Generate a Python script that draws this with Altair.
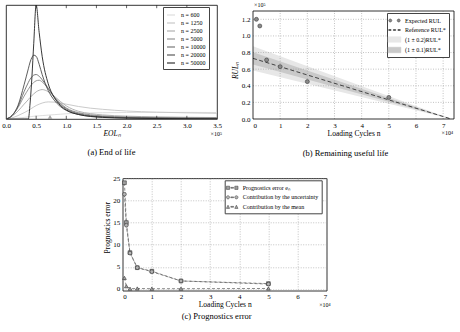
import altair as alt
import pandas as pd

FONT = "Liberation Serif"

# ---------------- (a) End of life ----------------
eol_x = [0.0, 0.1, 0.2, 0.3, 0.37, 0.4, 0.43, 0.46, 0.5, 0.55, 0.6, 0.7, 0.8, 0.9,
         1.0, 1.2, 1.4, 1.6, 2.0, 2.5, 3.0, 3.5]
n_values = ["600", "1250", "2500", "5000", "10000", "20000", "50000"]
dens_600 = [0, 0.003, 0.008, 0.014, 0.018, 0.02, 0.022, 0.024, 0.026, 0.028, 0.03, 0.034,
            0.038, 0.042, 0.046, 0.05, 0.053, 0.055, 0.057, 0.058, 0.058, 0.057]
dens_1250 = [0, 0.01, 0.03, 0.055, 0.075, 0.085, 0.095, 0.105, 0.118, 0.13, 0.14, 0.15,
             0.148, 0.14, 0.13, 0.11, 0.095, 0.085, 0.07, 0.06, 0.054, 0.05]
dens_2500 = [0, 0.025, 0.07, 0.13, 0.17, 0.19, 0.205, 0.22, 0.238, 0.252, 0.258, 0.24,
             0.2, 0.155, 0.115, 0.068, 0.047, 0.036, 0.025, 0.019, 0.015, 0.013]
dens_5000 = [0, 0.03, 0.1, 0.2, 0.26, 0.285, 0.305, 0.32, 0.335, 0.34, 0.325, 0.265,
             0.195, 0.14, 0.097, 0.056, 0.037, 0.027, 0.018, 0.013, 0.01, 0.009]
dens_10000 = [0, 0.03, 0.11, 0.24, 0.32, 0.35, 0.37, 0.385, 0.39, 0.375, 0.345, 0.27,
              0.19, 0.13, 0.09, 0.048, 0.03, 0.021, 0.013, 0.009, 0.007, 0.006]
dens_20000 = [0, 0.03, 0.12, 0.3, 0.44, 0.5, 0.54, 0.56, 0.55, 0.48, 0.39, 0.25,
              0.165, 0.11, 0.075, 0.04, 0.025, 0.017, 0.01, 0.006, 0.004, 0.003]
dens_50000 = [0, 0, 0, 0, 0, 0.14, 0.37, 0.66, 1.0, 0.76, 0.55, 0.31,
              0.19, 0.12, 0.08, 0.04, 0.022, 0.014, 0.007, 0.004, 0.002, 0.001]
a_colors = ["#dadada", "#c4c4c4", "#a9a9a9", "#8c8c8c", "#6c6c6c", "#4c4c4c", "#222222"]
eol_true = [0.73]
a_ticks = [0.5, 1.0, 1.5, 2.0, 2.5, 3.0]
a_xlabels = [0.0, 0.5, 1.0, 1.5, 2.0, 2.5, 3.0, 3.5]

# ---------------- (b) Remaining useful life ----------------
ref_n = [0.0, 7.3]
ref_rul = [0.73, 0.0]
band20_lo = [0.584, 0.0]
band20_hi = [0.876, 0.0]
band10_lo = [0.657, 0.0]
band10_hi = [0.803, 0.0]
exp_n = [0.125, 0.25, 0.5, 1.0, 2.0, 5.0]
exp_rul = [1.2, 1.12, 0.71, 0.63, 0.45, 0.26]
b_xticks = [0, 1, 2, 3, 4, 5, 6, 7]
b_yticks = [0.0, 0.2, 0.4, 0.6, 0.8, 1.0, 1.2]
b_legend = ["Expected RUL", "Reference RUL*", "(1 ± 0.2)RUL*", "(1 ± 0.1)RUL*"]

# ---------------- (c) Prognostics error ----------------
err_n = [0.06, 0.125, 0.25, 0.5, 1.0, 2.0, 5.0]
err_total = [24.0, 15.0, 8.2, 4.8, 4.0, 1.8, 1.2]
err_unc = [21.4, 14.4, 8.1, 4.8, 3.9, 1.8, 1.1]
err_mean = [2.5, 0.6, 0.05, 0.1, 0.05, 0.05, 0.1]
c_xticks = [0, 1, 2, 3, 4, 5, 6, 7]
c_yticks = [0, 5, 10, 15, 20, 25]
c_legend = ["Prognostics error eₙ", "Contribution by the uncertainty", "Contribution by the mean"]

GRID = dict(stroke="#9a9a9a", strokeWidth=0.6, strokeDash=[1, 1.5])
AX = dict(labelOverlap=False, labelFont=FONT, titleFont=FONT, labelFontSize=7, titleFontSize=7.5,
          titleFontWeight="normal", labelColor="#000", titleColor="#000", ticks=False,
          domain=False)

# ======== panel (a) ========
A_W, A_H = 211, 114
dens_all = [dens_600, dens_1250, dens_2500, dens_5000, dens_10000, dens_20000, dens_50000]
a_labels = ["n = " + v for v in n_values]
rows = []
for lab, ys in zip(a_labels, dens_all):
    for xv, yv in zip(eol_x, ys):
        rows.append({"eol": xv, "dens": yv, "series": lab})
df_a = pd.DataFrame(rows)

xa_scale = alt.Scale(domain=[0, 3.5], nice=False, zero=False)
ya_scale = alt.Scale(domain=[0, 1.0], nice=False)
xa_axis = alt.Axis(values=a_xlabels, tickCount=len(a_xlabels), format=".1f", title="EOLₙ",
                   titleFontStyle="italic", labelPadding=2, titlePadding=1, labelFlush=False,
                   grid=False, **AX)

leg_a = alt.Legend(title=None, orient="none", legendX=157, legendY=2, strokeColor="#444",
                   fillColor="white", padding=3, labelFont=FONT, labelFontSize=6,
                   symbolType="stroke", symbolSize=64, symbolStrokeWidth=1.1, rowPadding=0,
                   labelOffset=5, cornerRadius=0)
lines_a = alt.Chart(df_a).mark_line(strokeWidth=0.9, interpolate="monotone", clip=True).encode(
    x=alt.X("eol:Q", scale=xa_scale, axis=xa_axis),
    y=alt.Y("dens:Q", scale=ya_scale, axis=None),
    color=alt.Color("series:N", scale=alt.Scale(domain=a_labels, range=a_colors), legend=leg_a))

df_true = pd.DataFrame({"eol": eol_true, "dens": [0.0]})
tri_a = alt.Chart(df_true).mark_point(shape="triangle-up", filled=True, color="#a8a8a8",
                                      opacity=1, size=22, yOffset=-2).encode(
    x=alt.X("eol:Q", scale=xa_scale, axis=xa_axis),
    y=alt.Y("dens:Q", scale=ya_scale, axis=None))

df_at = pd.DataFrame({"t": a_ticks, "b0": [0.0] * len(a_ticks), "b1": [0.028] * len(a_ticks),
                      "t0": [1.0] * len(a_ticks), "t1": [0.972] * len(a_ticks)})
ticks_bot = alt.Chart(df_at).mark_rule(color="#222", strokeWidth=0.7).encode(
    x=alt.X("t:Q", scale=xa_scale, axis=xa_axis),
    y=alt.Y("b0:Q", scale=ya_scale, axis=None), y2="b1:Q")
ticks_top = alt.Chart(df_at).mark_rule(color="#222", strokeWidth=0.7).encode(
    x=alt.X("t:Q", scale=xa_scale, axis=xa_axis),
    y=alt.Y("t0:Q", scale=ya_scale, axis=None), y2="t1:Q")
exp_a = alt.Chart(pd.DataFrame({"t": ["×10⁵"]})).mark_text(
    font=FONT, fontSize=6, align="right", baseline="middle").encode(
    text="t:N", x=alt.value(A_W + 5), y=alt.value(A_H + 15))

chart_a = alt.layer(lines_a, ticks_bot, ticks_top, tri_a, exp_a).properties(
    width=A_W, height=A_H,
    title=alt.TitleParams("(a) End of life", orient="bottom", anchor="middle", offset=11,
                          font=FONT, fontSize=8.5, fontWeight="normal"))

# ======== panel (b) ========
B_W, B_H = 201, 114
B_TOP = 1.3
xb_scale = alt.Scale(domain=[0, 7.4], nice=False, zero=False)
yb_scale = alt.Scale(domain=[0, 1.3 * 114 / 108], nice=False)
xb_axis = alt.Axis(values=b_xticks, tickCount=len(b_xticks), format="d",
                   title="Loading Cycles n", labelPadding=2, titlePadding=1, grid=False, **AX)
yb_axis = alt.Axis(values=b_yticks, tickCount=len(b_yticks), format=".1f", title="RULₙ",
                   titleFontStyle="italic", labelPadding=3, titlePadding=2, titleY=65,
                   grid=False, **AX)


def bx(f):
    return alt.X(f, scale=xb_scale, axis=xb_axis)


def by(f):
    return alt.Y(f, scale=yb_scale, axis=yb_axis)


df_band = pd.DataFrame({"n": ref_n, "rul": ref_rul, "lo20": band20_lo, "hi20": band20_hi,
                        "lo10": band10_lo, "hi10": band10_hi})
band20 = alt.Chart(df_band).mark_area(color="#e7e7e7", opacity=1).encode(
    x=bx("n:Q"), y=by("lo20:Q"), y2="hi20:Q")
band10 = alt.Chart(df_band).mark_area(color="#c9c9c9", opacity=1).encode(
    x=bx("n:Q"), y=by("lo10:Q"), y2="hi10:Q")

df_bgx = pd.DataFrame({"g": b_xticks[1:], "y0": [0.0] * 7, "y1": [B_TOP] * 7})
df_bgy = pd.DataFrame({"g": b_yticks[1:], "x0": [0.0] * 6, "x1": [7.4] * 6})
grid_bx = alt.Chart(df_bgx).mark_rule(**GRID).encode(x=bx("g:Q"), y=by("y0:Q"), y2="y1:Q")
grid_by = alt.Chart(df_bgy).mark_rule(**GRID).encode(y=by("g:Q"), x=bx("x0:Q"), x2="x1:Q")

ref_line = alt.Chart(df_band).mark_line(color="#333", strokeWidth=0.9, strokeDash=[4, 2.5]).encode(
    x=bx("n:Q"), y=by("rul:Q"))

df_exp = pd.DataFrame({"n": exp_n, "rul": exp_rul})
pts_b = alt.Chart(df_exp).mark_point(shape="circle", filled=True, fill="#8a8a8a", stroke="#3a3a3a",
                                     strokeWidth=0.6, opacity=1, size=16, clip=True).encode(
    x=bx("n:Q"), y=by("rul:Q"))

df_frame = pd.DataFrame({"x0": [0.0], "x1": [7.4], "y0": [0.0], "y1": [B_TOP]})
frame_b = alt.Chart(df_frame).mark_rect(fillOpacity=0, stroke="#000", strokeWidth=0.8).encode(
    x=bx("x0:Q"), x2="x1:Q", y=by("y0:Q"), y2="y1:Q")

b_paths = [
    "M-1.43,0A0.38,0.38 0 1,1 -0.67,0A0.38,0.38 0 1,1 -1.43,0Z M0.67,0A0.38,0.38 0 1,1 1.43,0A0.38,0.38 0 1,1 0.67,0Z",
    "M-1.45,-0.1H-0.85V0.1H-1.45Z M-0.3,-0.1H0.3V0.1H-0.3Z M0.85,-0.1H1.45V0.1H0.85Z",
    "M-1.6,-0.7H1.6V0.7H-1.6Z",
    "M-1.6,-0.7H1.6V0.7H-1.6Z",
]
b_fills = ["#8a8a8a", "#333333", "#e7e7e7", "#c9c9c9"]
b_strokes = ["#3a3a3a", "#333333", "#e7e7e7", "#c9c9c9"]


def legend_layer(domain, fills, strokes, paths, lx, ly):
    leg = alt.Legend(title=None, orient="none", legendX=lx, legendY=ly, strokeColor="#444",
                     fillColor="white", padding=3, labelFont=FONT, labelFontSize=6,
                     symbolSize=64, symbolStrokeWidth=0.5, rowPadding=1.5, labelOffset=6,
                     cornerRadius=0, symbolOpacity=1)
    df = pd.DataFrame({"k": domain})
    return alt.Chart(df).transform_filter("false").mark_point(filled=True, opacity=1).encode(
        fill=alt.Fill("k:N", scale=alt.Scale(domain=domain, range=fills), legend=leg),
        stroke=alt.Stroke("k:N", scale=alt.Scale(domain=domain, range=strokes), legend=leg),
        shape=alt.Shape("k:N", scale=alt.Scale(domain=domain, range=paths), legend=leg))


leg_b = legend_layer(b_legend, b_fills, b_strokes, b_paths, 134, 8)
exp_b1 = alt.Chart(pd.DataFrame({"t": ["×10⁵"]})).mark_text(
    font=FONT, fontSize=6, align="left", baseline="middle").encode(
    text="t:N", x=alt.value(1), y=alt.value(0))
exp_b2 = alt.Chart(pd.DataFrame({"t": ["×10⁴"]})).mark_text(
    font=FONT, fontSize=6, align="right", baseline="middle").encode(
    text="t:N", x=alt.value(B_W - 1), y=alt.value(B_H + 14))

chart_b = alt.layer(band20, band10, grid_bx, grid_by, ref_line, pts_b, frame_b, leg_b,
                    exp_b1, exp_b2).properties(
    width=B_W, height=B_H, view=alt.ViewBackground(stroke="transparent"),
    title=alt.TitleParams("(b) Remaining useful life", orient="bottom", anchor="middle",
                          offset=12, dx=-8, font=FONT, fontSize=8.5, fontWeight="normal"))

# ======== panel (c) ========
C_W, C_H = 204, 112.4
xc_scale = alt.Scale(domain=[0, 7], nice=False, zero=False)
yc_scale = alt.Scale(domain=[-0.4, 25], nice=False, zero=False)
xc_axis = alt.Axis(values=c_xticks, tickCount=len(c_xticks), format="d",
                   title="Loading Cycles n", labelPadding=2, titlePadding=1, grid=True,
                   gridDash=[1, 1.5], gridColor="#9a9a9a", gridWidth=0.6, **AX)
yc_axis = alt.Axis(values=c_yticks, tickCount=len(c_yticks), format="d",
                   title="Prognostics error", labelPadding=3, titlePadding=1, titleY=49,
                   grid=True, gridDash=[1, 1.5], gridColor="#9a9a9a", gridWidth=0.6, **AX)

df_c = pd.DataFrame({"n": err_n * 3, "v": err_total + err_unc + err_mean,
                     "s": ["tot"] * 7 + ["unc"] * 7 + ["mean"] * 7})
lines_c = alt.Chart(df_c).mark_line(color="#6a6a6a", strokeWidth=0.8, strokeDash=[3, 2]).encode(
    x=alt.X("n:Q", scale=xc_scale, axis=xc_axis),
    y=alt.Y("v:Q", scale=yc_scale, axis=yc_axis),
    detail="s:N")


def pts(series, shape, fill):
    d = pd.DataFrame({"n": err_n, "v": series})
    return alt.Chart(d).mark_point(shape=shape, filled=True, fill=fill, stroke="#333",
                                   strokeWidth=0.6, opacity=1, size=14).encode(
        x=alt.X("n:Q", scale=xc_scale, axis=xc_axis),
        y=alt.Y("v:Q", scale=yc_scale, axis=yc_axis))


pts_tot = pts(err_total, "square", "#a0a0a0")
pts_unc = pts(err_unc, "circle", "#b4b4b4")
pts_mean = pts(err_mean, "triangle-up", "#a8a8a8")

c_paths = [
    "M-1.45,-0.4H-0.65V0.4H-1.45Z M-0.35,-0.1H0.35V0.1H-0.35Z M0.65,-0.4H1.45V0.4H0.65Z",
    "M-1.45,0A0.4,0.4 0 1,1 -0.65,0A0.4,0.4 0 1,1 -1.45,0Z M-0.35,-0.1H0.35V0.1H-0.35Z M0.65,0A0.4,0.4 0 1,1 1.45,0A0.4,0.4 0 1,1 0.65,0Z",
    "M-1.45,0.4L-1.05,-0.4L-0.65,0.4Z M-0.35,-0.1H0.35V0.1H-0.35Z M0.65,0.4L1.05,-0.4L1.45,0.4Z",
]
leg_c = legend_layer(c_legend, ["#a0a0a0", "#b4b4b4", "#a8a8a8"], ["#333", "#333", "#333"],
                     c_paths, 102, 2)
exp_c = alt.Chart(pd.DataFrame({"t": ["×10⁴"]})).mark_text(
    font=FONT, fontSize=6, align="right", baseline="middle").encode(
    text="t:N", x=alt.value(C_W + 4), y=alt.value(C_H + 14.5))

chart_c = alt.layer(lines_c, pts_tot, pts_unc, pts_mean, leg_c, exp_c).properties(
    width=C_W, height=C_H,
    title=alt.TitleParams("(c) Prognostics error", orient="bottom", anchor="middle", offset=4,
                          dx=-8, font=FONT, fontSize=8.5, fontWeight="normal"))

spacer = alt.Chart(pd.DataFrame({"v": [0]})).mark_point(opacity=0).encode(
    x=alt.value(0), y=alt.value(0)).properties(
    width=100, height=10, view=alt.ViewBackground(stroke="transparent"))

RES = dict(color="independent", fill="independent", stroke="independent", shape="independent")
LRES = dict(color="independent", fill="independent", stroke="independent", shape="independent")
top = alt.hconcat(chart_a, chart_b, spacing=36, bounds="flush").resolve_scale(**RES).resolve_legend(**LRES)
bottom = alt.hconcat(spacer, chart_c, spacing=16.7, bounds="flush").resolve_scale(**RES).resolve_legend(**LRES)
chart = alt.vconcat(top, bottom, spacing=173.3, bounds="flush").resolve_scale(**RES).resolve_legend(**LRES).properties(
    padding={"left": 1, "top": 1, "right": 0, "bottom": 0}, background="white"
).configure_view(stroke="#000", strokeWidth=0.8).configure_axis(
    labelFont=FONT, titleFont=FONT, labelFontSize=7, titleFontSize=7.5, titleFontWeight="normal",
    labelColor="#000", titleColor="#000", ticks=False, domain=False, grid=False,
    labelOverlap=False)

chart.save("out.html", embed_options={"renderer": "svg", "actions": False})
